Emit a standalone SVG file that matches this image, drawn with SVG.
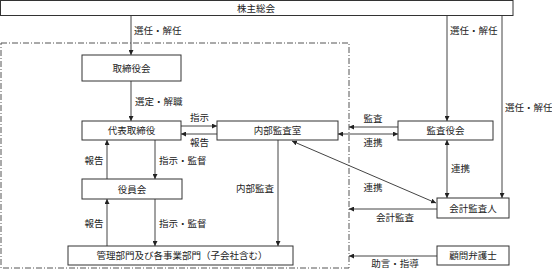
<svg xmlns="http://www.w3.org/2000/svg" width="552" height="278" viewBox="0 0 552 278">
<style>
.box{fill:#fff;stroke:#333;stroke-width:1}
.t{font-family:"Noto Sans CJK JP","Noto Sans",sans-serif;font-size:9.5px;fill:#222}
.c{text-anchor:middle}
.e{text-anchor:end}
.ln{fill:none;stroke:#444;stroke-width:1}
.dash{fill:none;stroke:#555;stroke-width:1;stroke-dasharray:6 2 1 2}
</style>
<defs>
<marker id="ah" viewBox="0 0 6 6" refX="6" refY="3" markerWidth="5" markerHeight="5" orient="auto-start-reverse" markerUnits="userSpaceOnUse">
<path d="M0,0 L6,3 L0,6 Z" fill="#222"/>
</marker>
</defs>
<rect class="dash" x="1" y="43" width="348" height="225"/>
<g id="connectors">
<line class="ln" x1="131" y1="16" x2="131" y2="55" marker-end="url(#ah)"/>
<line class="ln" x1="131" y1="81" x2="131" y2="121" marker-end="url(#ah)"/>
<line class="ln" x1="181" y1="126" x2="217" y2="126" marker-end="url(#ah)"/>
<line class="ln" x1="217" y1="134" x2="181" y2="134" marker-end="url(#ah)"/>
<line class="ln" x1="107" y1="179" x2="107" y2="140" marker-end="url(#ah)"/>
<line class="ln" x1="155" y1="140" x2="155" y2="179" marker-end="url(#ah)"/>
<line class="ln" x1="107" y1="246" x2="107" y2="199" marker-end="url(#ah)"/>
<line class="ln" x1="155" y1="199" x2="155" y2="246" marker-end="url(#ah)"/>
<line class="ln" x1="278" y1="140" x2="278" y2="246" marker-end="url(#ah)"/>
<line class="ln" x1="398" y1="127" x2="349" y2="127" marker-end="url(#ah)"/>
<line class="ln" x1="338" y1="134" x2="398" y2="134" marker-start="url(#ah)" marker-end="url(#ah)"/>
<line class="ln" x1="447" y1="16" x2="447" y2="121" marker-end="url(#ah)"/>
<line class="ln" x1="502" y1="16" x2="502" y2="198" marker-end="url(#ah)"/>
<line class="ln" x1="447" y1="140" x2="447" y2="198" marker-start="url(#ah)" marker-end="url(#ah)"/>
<line class="ln" x1="292" y1="141" x2="436" y2="203" marker-start="url(#ah)" marker-end="url(#ah)"/>
<line class="ln" x1="437" y1="209" x2="349" y2="209" marker-end="url(#ah)"/>
<line class="ln" x1="437" y1="256" x2="349" y2="256" marker-end="url(#ah)"/>
<text class="t" x="134" y="34">選任・解任</text>
<text class="t" x="135" y="105">選定・解職</text>
<text class="t" x="190" y="121">指示</text>
<text class="t" x="190" y="146">報告</text>
<text class="t c" x="94" y="164">報告</text>
<text class="t" x="159" y="164">指示・監督</text>
<text class="t c" x="94" y="227">報告</text>
<text class="t" x="159" y="227">指示・監督</text>
<text class="t e" x="274" y="192">内部監査</text>
<text class="t c" x="373" y="122">監査</text>
<text class="t c" x="373" y="146">連携</text>
<text class="t" x="450" y="34">選任・解任</text>
<text class="t" x="505" y="111">選任・解任</text>
<text class="t" x="451" y="172">連携</text>
<text class="t c" x="373" y="191">連携</text>
<text class="t c" x="395" y="221">会計監査</text>
<text class="t c" x="395" y="267">助言・指導</text>
</g>
<g id="n-shareholders"><rect class="box" x="0.5" y="0.5" width="512.5" height="15"/><text class="t c" x="256" y="11.5">株主総会</text></g>
<g id="n-board"><rect class="box" x="82" y="55" width="99" height="26"/><text class="t c" x="131.5" y="71.5">取締役会</text></g>
<g id="n-ceo"><rect class="box" x="82" y="121" width="99" height="19"/><text class="t c" x="131.5" y="134">代表取締役</text></g>
<g id="n-officers"><rect class="box" x="82" y="179" width="100" height="20"/><text class="t c" x="132" y="192.5">役員会</text></g>
<g id="n-depts"><rect class="box" x="68" y="246" width="225" height="19"/><text class="t c" x="182" y="259">管理部門及び各事業部門（子会社含む）</text></g>
<g id="n-audit-office"><rect class="box" x="217" y="121" width="121" height="19"/><text class="t c" x="277.5" y="134">内部監査室</text></g>
<g id="n-auditors"><rect class="box" x="398" y="121" width="95" height="19"/><text class="t c" x="445.5" y="134">監査役会</text></g>
<g id="n-accounting"><rect class="box" x="437" y="198" width="72" height="20"/><text class="t c" x="473" y="211.5">会計監査人</text></g>
<g id="n-lawyer"><rect class="box" x="437" y="246" width="72" height="19"/><text class="t c" x="473" y="259">顧問弁護士</text></g>
</svg>
